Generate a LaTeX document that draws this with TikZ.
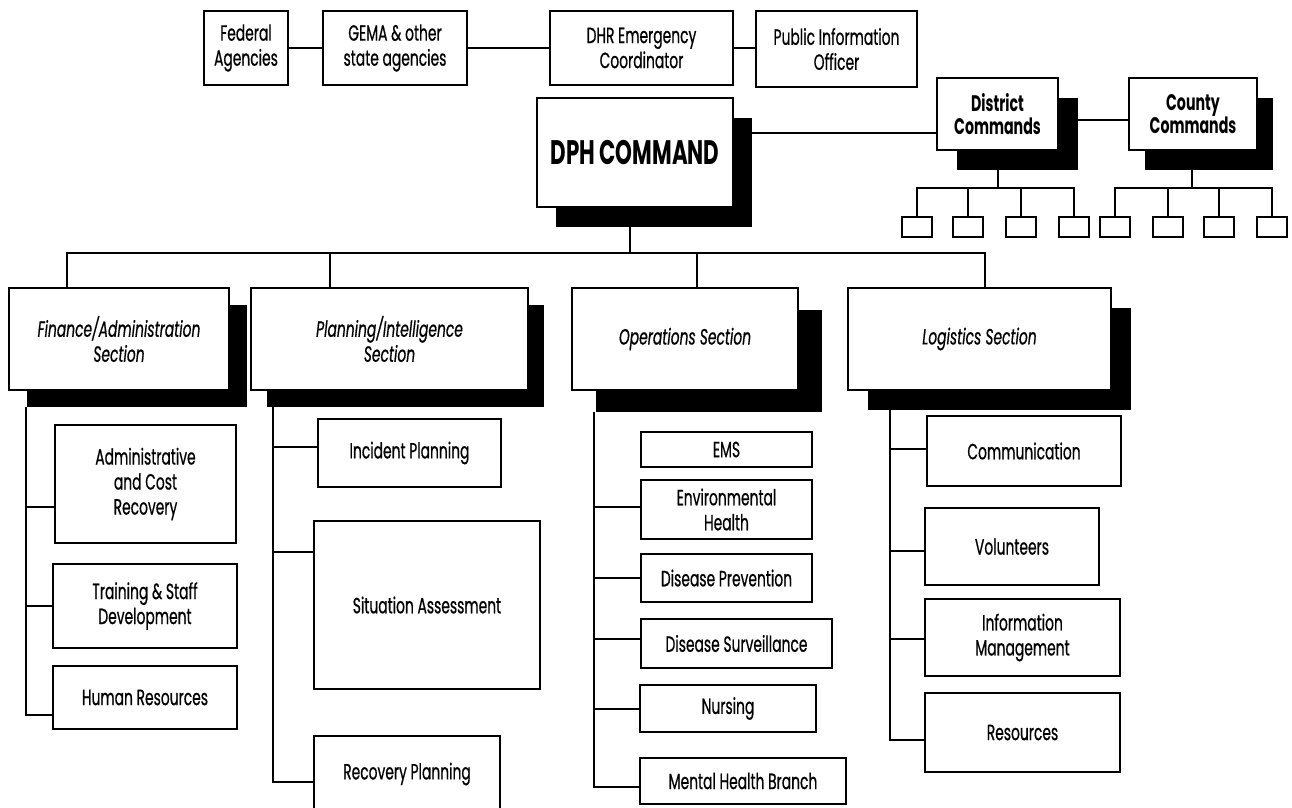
\documentclass[tikz,border=0pt]{standalone}
\usepackage{fontspec}
\setmainfont{Poppins}[FakeStretch=0.63, UprightFeatures={FakeBold=0.6}, ItalicFeatures={FakeBold=0.6}]
\usetikzlibrary{calc}
\pgfdeclarelayer{bg}
\pgfsetlayers{bg,main}
\newcommand\dropshade[3]{\begin{pgfonlayer}{bg}\fill[black] ($(#1.north west)+(#2,#3)$) rectangle ($(#1.south east)+(#2,#3)$);\end{pgfonlayer}}
\begin{document}
\begin{tikzpicture}[x=1pt,y=-1pt,
  box/.style={draw=black, line width=2.2pt, fill=white, inner sep=2pt, outer sep=0pt, align=center, font=\fontsize{22}{25}\selectfont},
  sec/.style={box, font=\fontsize{22}{25}\selectfont\itshape},
  cmd/.style={box, font=\fontsize{22.5}{23}\selectfont\bfseries},
  small/.style={draw=black, line width=2pt, fill=white, minimum width=30pt, minimum height=20pt, inner sep=0pt, outer sep=0pt},
  conn/.style={line width=2pt}]
\begin{pgfonlayer}{bg}
\fill[white] (0,0) rectangle (1292,807);
\end{pgfonlayer}
\useasboundingbox (0,0) rectangle (1292,807);

% top row
\node[box, minimum width=84pt, minimum height=74pt] (fed) at (246,48) {Federal\\Agencies};
\node[box, minimum width=144pt, minimum height=74pt] (gema) at (395,48) {GEMA \& other\\state agencies};
\node[box, minimum width=183pt, minimum height=74pt] (dhr) at (641.5,48) {DHR Emergency\\Coordinator};
\node[box, minimum width=161pt, minimum height=76pt] (pio) at (836.5,49) {Public Information\\Officer};
\draw[conn] (fed) -- (gema);
\draw[conn] (gema) -- (dhr);
\draw[conn] (dhr.east) -- (dhr.east -| pio.west);

% command
\node[box, minimum width=196pt, minimum height=109pt, font=\fontsize{34}{36}\selectfont\bfseries] (dph) at (635,152.5) {DPH COMMAND};
\dropshade{dph}{19}{20}
\node[cmd, minimum width=121pt, minimum height=72pt] (dist) at (997.5,114) {District\\Commands};
\dropshade{dist}{20}{20}
\node[cmd, minimum width=128pt, minimum height=72pt] (cnty) at (1193,114) {County\\Commands};
\dropshade{cnty}{16}{20}
\draw[conn] ([yshift=19.5pt]dph.east) coordinate (dl) -- (dl -| dist.west);
\draw[conn] ([yshift=-6pt]dist.east) coordinate (cl) -- (cl -| cnty.west);

% small boxes
\foreach \n/\x in {d1/917,d2/968,d3/1021,d4/1074,c1/1115,c2/1168,c3/1219,c4/1272}
  \node[small] (\n) at (\x,227) {};
\coordinate (dbus) at ($(dist.south)+(0,38)$);
\coordinate (cbus) at ($(cnty.south)+(-1,38)$);
\draw[conn] (dist.south) -- (dbus);
\draw[conn] (cnty.south -| cbus) -- (cbus);
\foreach \n in {d1,d2,d3,d4} \draw[conn] (dbus) -| (\n.north);
\foreach \n in {c1,c2,c3,c4} \draw[conn] (cbus) -| (\n.north);

% sections
\node[sec, minimum width=220pt, minimum height=102pt] (fin) at (119,339) {Finance/Administration\\Section};
\dropshade{fin}{18}{17}
\node[sec, minimum width=277pt, minimum height=102pt] (plan) at (389.5,339) {Planning/Intelligence\\Section};
\dropshade{plan}{16}{17}
\node[sec, minimum width=226pt, minimum height=102pt] (ops) at (685,339) {Operations Section};
\dropshade{ops}{24}{22}
\node[sec, minimum width=263pt, minimum height=102pt] (log) at (979.5,339) {Logistics Section};
\dropshade{log}{20}{20}

\coordinate (mbus) at ($(dph.south)+(-5,45.5)$);
\draw[conn] (dph.south -| mbus) -- (mbus);
\draw[conn] (mbus) -| ([xshift=-52pt]fin.north);
\draw[conn] (mbus) -| ([xshift=-59.5pt]plan.north);
\draw[conn] (mbus) -| ([xshift=12pt]ops.north);
\draw[conn] (mbus) -| ([xshift=5.5pt]log.north);

% finance items
\node[box, minimum width=181pt, minimum height=118pt] (admin) at (145.5,484) {Administrative\\and Cost\\Recovery};
\node[box, minimum width=184pt, minimum height=84pt] (train) at (145,606) {Training \& Staff\\Development};
\node[box, minimum width=184pt, minimum height=63pt] (hr) at (145,697.5) {Human Resources};
\coordinate (finT) at ($(fin.south west)+(17,17)$);
\draw[conn] (finT) |- ([yshift=-17.5pt]hr.west);
\draw[conn] ([yshift=-23pt]admin.west) coordinate (a1) -- (a1 -| finT);
\draw[conn] (train.west) -- (train.west -| finT);

% planning items
\node[box, minimum width=183pt, minimum height=68pt] (inc) at (409.5,453) {Incident Planning};
\node[box, minimum width=226pt, minimum height=168pt] (sit) at (427,605) {Situation Assessment};
\node[box, minimum width=186pt, minimum height=76pt] (rec) at (407,774) {Recovery Planning};
\coordinate (planT) at ($(plan.south west)+(22,17)$);
\draw[conn] (planT) |- ([yshift=-8pt]rec.west);
\draw[conn] ([yshift=6pt]inc.west) coordinate (p1) -- (p1 -| planT);
\draw[conn] ([yshift=53pt]sit.west) coordinate (p2) -- (p2 -| planT);

% operations items
\node[box, minimum width=171pt, minimum height=35pt] (ems) at (726.5,449.5) {EMS};
\node[box, minimum width=171pt, minimum height=59pt] (env) at (726.5,509.5) {Environmental\\Health};
\node[box, minimum width=171pt, minimum height=48pt] (dprev) at (726.5,578) {Disease Prevention};
\node[box, minimum width=191pt, minimum height=49pt] (dsurv) at (736.5,643.5) {Disease Surveillance};
\node[box, minimum width=176pt, minimum height=47pt] (nurs) at (728,708.5) {Nursing};
\node[box, minimum width=206pt, minimum height=46pt] (mhb) at (743,781) {Mental Health Branch};
\coordinate (opsT) at ($(ops.south west)+(22,22)$);
\draw[conn] (opsT) |- ([yshift=-6pt]mhb.west);
\draw[conn] ([yshift=2.5pt]env.west) coordinate (o1) -- (o1 -| opsT);
\draw[conn] (dprev.west) -- (dprev.west -| opsT);
\draw[conn] ([yshift=4.5pt]dsurv.west) coordinate (o2) -- (o2 -| opsT);
\draw[conn] (nurs.west) -- (nurs.west -| opsT);

% logistics items
\node[box, minimum width=194pt, minimum height=70pt] (comm) at (1024,451) {Communication};
\node[box, minimum width=174pt, minimum height=77pt] (vol) at (1012,546.5) {Volunteers};
\node[box, minimum width=195pt, minimum height=77pt] (info) at (1022.5,637.5) {Information\\Management};
\node[box, minimum width=195pt, minimum height=79pt] (res) at (1022.5,732.5) {Resources};
\coordinate (logT) at ($(log.south west)+(42,20)$);
\draw[conn] (logT) |- ([yshift=-7.5pt]res.west);
\draw[conn] ([yshift=2pt]comm.west) coordinate (l1) -- (l1 -| logT);
\draw[conn] ([yshift=-4.5pt]vol.west) coordinate (l2) -- (l2 -| logT);
\draw[conn] ([yshift=-1.5pt]info.west) coordinate (l3) -- (l3 -| logT);
\end{tikzpicture}
\end{document}
